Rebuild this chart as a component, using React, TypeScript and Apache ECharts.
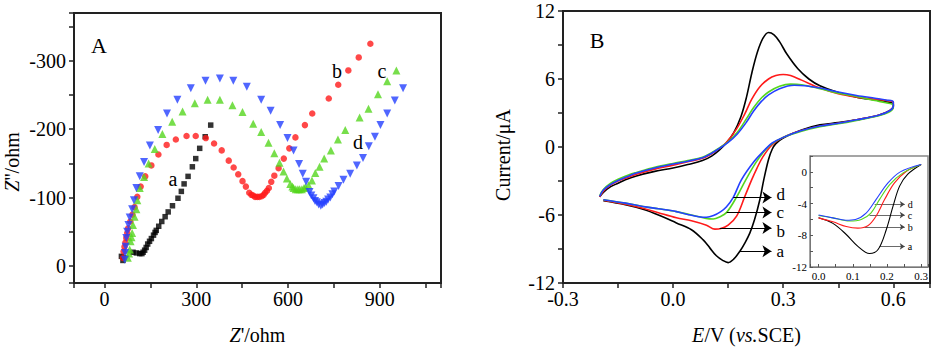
import React, { useEffect, useRef } from 'react';
import * as echarts from 'echarts';

const FONT = '"Liberation Serif", "Times New Roman", serif';

// ---------- Panel A : Nyquist plots (Z' , Z'') ----------
const nyqA: number[][] = [
  [55, -14], [60, -8], [63, -12], [93, -20], [104, -19], [115, -18], [122, -18], [126, -20], [131, -23],
  [136, -27], [141, -32], [147, -36], [153, -40], [160, -45], [165, -49], [169, -52], [177, -58], [187, -65],
  [198, -72], [208, -79], [222, -88], [240, -99], [251, -109], [260, -120], [273, -131], [287, -145],
  [298, -157], [311, -172], [329, -189], [347, -206],
];
const nyqB: number[][] = [
  [60, -11.6], [62, -21], [65, -28], [68, -34], [71, -41], [74, -48], [77, -55], [84, -65], [91, -75],
  [98, -86], [107, -101], [118, -116], [133, -131], [153, -147], [176, -163], [203, -177], [233, -185],
  [268, -190], [298, -190], [331, -187], [358, -179], [383, -169], [406, -154], [422, -144], [437, -134],
  [451, -124], [462, -116], [473, -107], [480, -104], [486, -103], [492, -101], [499, -101], [506, -101],
  [514, -102], [520, -104], [525, -107], [531, -110], [537, -114], [545, -123], [555, -132], [569, -143],
  [586, -157], [604, -172], [624, -188], [655, -206], [679, -223], [733, -245], [764, -265], [797, -286],
  [831, -305], [869, -325],
];
const nyqC: number[][] = [
  [76, -12], [80, -18], [82, -24], [85, -36], [88, -42], [90, -48], [93, -60], [98, -72], [104, -83],
  [107, -96], [115, -114], [129, -130], [144, -150], [164, -171], [189, -193], [221, -211], [255, -226],
  [295, -238], [337, -243], [377, -243], [418, -235], [451, -225], [486, -208], [512, -196], [536, -180],
  [555, -165], [572, -151], [585, -138], [596, -128], [607, -120], [614, -116], [618, -114], [625, -112],
  [632, -112], [638, -112], [645, -112], [652, -114], [657, -115], [667, -118], [678, -125], [689, -136],
  [703, -145], [718, -157], [740, -169], [763, -185], [787, -199], [834, -217], [863, -230], [894, -251],
  [924, -270], [954, -286],
];
const nyqD: number[][] = [
  [66, -9], [67, -19], [69, -28], [71, -41], [74, -50], [78, -60], [82, -71], [90, -83], [96, -96],
  [104, -114], [115, -131], [129, -152], [148, -176], [175, -199], [204, -223], [238, -243], [282, -260],
  [330, -271], [377, -274], [421, -271], [465, -262], [512, -243], [543, -227], [574, -206], [598, -187],
  [618, -169], [636, -149], [648, -135], [659, -123], [670, -108], [676, -103], [683, -99], [688, -95],
  [694, -93], [700, -90], [707, -88], [713, -90], [719, -92], [725, -94], [731, -97], [738, -100],
  [745, -105], [751, -109], [765, -117], [781, -126], [803, -135], [825, -147], [845, -158], [864, -175],
  [884, -189], [902, -206], [924, -223], [949, -242], [976, -260],
];

// ---------- Panel B : cyclic voltammograms (E / V, I / uA) ----------
const cvA: number[][] = [
  [-0.2, -4.4], [-0.19, -4.0], [-0.17, -3.5], [-0.15, -3.2], [-0.13, -2.9], [-0.1, -2.55], [-0.05, -2.15],
  [0.0, -1.85], [0.04, -1.55], [0.08, -1.2], [0.105, -0.8], [0.125, -0.3], [0.145, 0.35], [0.165, 1.25],
  [0.185, 2.7], [0.2, 4.4], [0.215, 6.6], [0.23, 8.4], [0.245, 9.6], [0.26, 10.1], [0.275, 9.9], [0.29, 9.3],
  [0.31, 8.2], [0.34, 6.9], [0.37, 6.0], [0.4, 5.4], [0.45, 4.8], [0.5, 4.4], [0.55, 4.15], [0.58, 4.0],
  [0.6, 3.8],
  [0.6, 3.6], [0.59, 3.2], [0.56, 2.8], [0.5, 2.4], [0.45, 2.15], [0.4, 1.95], [0.35, 1.5], [0.3, 0.8],
  [0.28, 0.3], [0.27, -0.2], [0.26, -1.1], [0.247, -2.9], [0.236, -4.7], [0.222, -6.4], [0.209, -7.6],
  [0.195, -8.5], [0.182, -9.2], [0.165, -9.9], [0.15, -10.2], [0.135, -10.0], [0.118, -9.6], [0.1, -8.9],
  [0.082, -8.2], [0.05, -7.3], [0.009, -6.7], [-0.04, -6.0], [-0.082, -5.5], [-0.13, -5.1], [-0.19, -4.75],
];
const cvB: number[][] = [
  [-0.2, -4.4], [-0.19, -3.9], [-0.17, -3.35], [-0.15, -3.0], [-0.12, -2.65], [-0.1, -2.4], [-0.05, -1.95],
  [0.0, -1.6], [0.04, -1.3], [0.08, -1.0], [0.105, -0.6], [0.125, -0.15], [0.145, 0.4], [0.173, 1.6],
  [0.195, 2.9], [0.214, 4.2], [0.236, 5.3], [0.26, 6.0], [0.28, 6.3], [0.3, 6.4], [0.32, 6.3],
  [0.35, 5.9], [0.4, 5.2], [0.45, 4.7], [0.5, 4.4], [0.55, 4.2], [0.58, 4.1], [0.6, 3.95],
  [0.6, 3.6], [0.59, 3.2], [0.56, 2.8], [0.5, 2.4], [0.45, 2.1], [0.4, 1.85], [0.35, 1.45], [0.3, 0.85],
  [0.27, 0.2], [0.245, -0.85], [0.228, -1.9], [0.214, -2.9], [0.195, -4.4], [0.173, -6.1], [0.15, -6.9],
  [0.13, -7.2], [0.114, -7.25], [0.091, -6.9], [0.05, -6.5], [0.009, -6.25], [-0.04, -5.8], [-0.082, -5.4],
  [-0.13, -5.05], [-0.19, -4.7],
];
const cvC: number[][] = [
  [-0.2, -4.3], [-0.19, -3.75], [-0.17, -3.2], [-0.15, -2.85], [-0.12, -2.45], [-0.1, -2.25], [-0.05, -1.8],
  [0.0, -1.45], [0.04, -1.2], [0.08, -0.9], [0.105, -0.5], [0.125, -0.1], [0.15, 0.45], [0.175, 1.3],
  [0.2, 2.5], [0.22, 3.5], [0.24, 4.3], [0.26, 4.85], [0.29, 5.35], [0.32, 5.55], [0.35, 5.5], [0.4, 5.15],
  [0.45, 4.75], [0.5, 4.45], [0.55, 4.1], [0.58, 3.9], [0.6, 3.7],
  [0.6, 3.5], [0.59, 3.1], [0.56, 2.75], [0.5, 2.35], [0.45, 2.05], [0.4, 1.8], [0.35, 1.4], [0.3, 0.85],
  [0.27, 0.3], [0.25, -0.3], [0.225, -1.4], [0.198, -2.9], [0.175, -4.3], [0.146, -5.77], [0.125, -6.2],
  [0.109, -6.35], [0.09, -6.3], [0.05, -6.0], [0.009, -5.7], [-0.04, -5.45], [-0.082, -5.25], [-0.13, -4.95],
  [-0.19, -4.65],
];
const cvD: number[][] = [
  [-0.2, -4.35], [-0.19, -3.8], [-0.17, -3.3], [-0.15, -2.95], [-0.12, -2.55], [-0.1, -2.3], [-0.05, -1.85],
  [0.0, -1.5], [0.04, -1.25], [0.08, -0.95], [0.105, -0.55], [0.125, -0.15], [0.15, 0.4], [0.175, 1.15],
  [0.2, 2.2], [0.22, 3.2], [0.24, 4.0], [0.26, 4.6], [0.29, 5.15], [0.33, 5.45], [0.36, 5.4], [0.4, 5.2],
  [0.45, 4.85], [0.5, 4.55], [0.55, 4.3], [0.58, 4.15], [0.6, 4.0],
  [0.6, 3.6], [0.59, 3.2], [0.56, 2.8], [0.5, 2.4], [0.45, 2.1], [0.4, 1.85], [0.35, 1.45], [0.3, 0.85],
  [0.27, 0.35], [0.25, -0.25], [0.22, -1.3], [0.186, -2.9], [0.164, -4.45], [0.145, -5.3], [0.13, -5.7],
  [0.11, -6.05], [0.091, -6.2], [0.07, -6.15], [0.04, -5.95], [0.009, -5.7], [-0.04, -5.45], [-0.082, -5.25],
  [-0.13, -4.95], [-0.19, -4.65],
];

// ---------- Inset : cathodic branch 0.0 – 0.3 V ----------
const insA: number[][] = [
  [0, -5.8], [0.042, -6.5], [0.081, -7.9], [0.115, -9.4], [0.149, -10.3], [0.174, -9.8], [0.198, -7.3],
  [0.218, -4.3], [0.237, -1.8], [0.261, -0.3], [0.3, 0.92],
];
const insB: number[][] = [
  [0, -5.8], [0.042, -6.3], [0.081, -6.9], [0.115, -7.1], [0.144, -6.8], [0.168, -5.6], [0.193, -3.5],
  [0.222, -1.4], [0.257, 0.08], [0.3, 0.92],
];
const insC: number[][] = [
  [0, -5.5], [0.042, -5.8], [0.09, -6.2], [0.125, -6.0], [0.153, -5.2], [0.178, -3.5], [0.208, -1.6],
  [0.247, -0.13], [0.3, 0.92],
];
const insD: number[][] = [
  [0, -5.45], [0.042, -5.8], [0.08, -6.1], [0.108, -6.0], [0.139, -5.2], [0.168, -3.5], [0.203, -1.4],
  [0.239, 0], [0.3, 0.92],
];

// arrow annotations [label, startE, endE, I]
const arrowsMain: [string, number, number, number][] = [
  ['d', 0.164, 0.268, -4.45],
  ['c', 0.146, 0.268, -5.77],
  ['b', 0.127, 0.268, -7.15],
  ['a', 0.182, 0.268, -9.2],
];
const arrowsInset: [string, number, number, number][] = [
  ['d', 0.164, 0.252, -4.1],
  ['c', 0.149, 0.252, -5.45],
  ['b', 0.134, 0.252, -6.96],
  ['a', 0.178, 0.252, -9.4],
];

const COLORS = { a: '#000000', b: '#ff1a1a', c: '#55d61e', d: '#2440ff' };

const txt = (color = '#000', size = 20) => ({ color, fontFamily: FONT, fontSize: size });

function buildOption(): any {
  const axisLine = { show: true, onZero: false, lineStyle: { color: '#222', width: 2 } };
  const tickOut = { show: true, inside: false, length: 5, lineStyle: { color: '#222', width: 1.5 } };
  const minorOut = { show: true, splitNumber: 2, length: 5, lineStyle: { color: '#222', width: 1.5 } };
  const axisIn = { show: true, onZero: false, lineStyle: { color: '#777', width: 1 } };
  const tickIn = { show: true, inside: true, length: 3, lineStyle: { color: '#555', width: 1 } };
  const minorIn = { show: true, splitNumber: 2, length: 3, lineStyle: { color: '#555', width: 1 } };

  // small vertical nudges so that the stacked letters do not collide
  const nudge: Record<string, number> = { d: -3, c: 0, b: 3, a: 0 };

  const markArrows = (list: [string, number, number, number][], size: number, sym: number, color: string, w: number, dist: number, useNudge: boolean) => ({
    silent: true,
    symbol: ['none', 'arrow'],
    symbolSize: sym,
    lineStyle: { color, width: w, type: 'solid' },
    label: { show: true, position: 'end', formatter: '{b}', distance: dist, ...txt('#000', size) },
    emphasis: { disabled: true },
    data: list.map(([n, x1, x2, y]) => [
      { name: n, coord: [x1, y], label: { offset: [0, useNudge ? nudge[n] : 0] } },
      { coord: [x2, y] },
    ]),
  });

  const cvSeries = (data: number[][], color: string, xi: number, yi: number, w: number, extra: any = {}) => ({
    type: 'line', xAxisIndex: xi, yAxisIndex: yi, data, showSymbol: false, symbol: 'none', smooth: 0.35,
    lineStyle: { color, width: w }, itemStyle: { color }, clip: true, z: 3, ...extra,
  });

  return {
    animation: false,
    backgroundColor: '#ffffff',
    grid: [
      { left: 74, top: 13, width: 367, height: 272, show: true, borderColor: '#222', borderWidth: 2, backgroundColor: 'transparent' },
      { left: 563, top: 11, width: 367, height: 273, show: true, borderColor: '#222', borderWidth: 2, backgroundColor: 'transparent' },
      { left: 810, top: 156, width: 118, height: 111, show: true, borderColor: '#888', borderWidth: 1.5, backgroundColor: '#fff', z: 5 },
    ],
    xAxis: [
      {
        gridIndex: 0, type: 'value', min: -100, max: 1100, minInterval: 300, maxInterval: 300, splitNumber: 4,
        axisLine, axisTick: tickOut, minorTick: minorOut, splitLine: { show: false }, minorSplitLine: { show: false },
        axisLabel: { ...txt(), margin: 6, showMinLabel: false, showMaxLabel: false },
        name: "{i|Z}'/ohm", nameLocation: 'middle', nameGap: 42,
        nameTextStyle: { ...txt(), rich: { i: { ...txt(), fontStyle: 'italic' } } },
      },
      {
        gridIndex: 1, type: 'value', min: -0.3, max: 0.7, interval: 0.3,
        axisLine, axisTick: tickOut, minorTick: minorOut, splitLine: { show: false }, minorSplitLine: { show: false },
        axisLabel: { ...txt(), margin: 6, showMaxLabel: false, formatter: (v: number) => v.toFixed(1) },
        name: '{i|E}/V ({i|vs.}SCE)', nameLocation: 'middle', nameGap: 42,
        nameTextStyle: { ...txt(), rich: { i: { ...txt(), fontStyle: 'italic' } } },
      },
      {
        gridIndex: 2, type: 'value', min: -0.025, max: 0.32, minInterval: 0.1, maxInterval: 0.1, splitNumber: 3,
        axisLine: axisIn, axisTick: tickIn, minorTick: minorIn, splitLine: { show: false }, minorSplitLine: { show: false },
        axisLabel: { ...txt('#000', 11), margin: 3, showMinLabel: false, showMaxLabel: false, formatter: (v: number) => v.toFixed(1) },
        z: 6,
      },
    ],
    yAxis: [
      {
        gridIndex: 0, type: 'value', inverse: true, min: -370, max: 25, minInterval: 100, maxInterval: 100, splitNumber: 4,
        axisLine, axisTick: tickOut, minorTick: minorOut, splitLine: { show: false }, minorSplitLine: { show: false },
        axisLabel: { ...txt(), margin: 8, showMinLabel: false, showMaxLabel: false },
      },
      {
        gridIndex: 1, type: 'value', min: -12, max: 12, interval: 6,
        axisLine, axisTick: tickOut, minorTick: minorOut, splitLine: { show: false }, minorSplitLine: { show: false },
        axisLabel: { ...txt(), margin: 8 },
      },
      {
        gridIndex: 2, type: 'value', min: -12, max: 2, interval: 4,
        axisLine: axisIn, axisTick: tickIn, minorTick: minorIn, splitLine: { show: false }, minorSplitLine: { show: false },
        axisLabel: { ...txt('#000', 11), margin: 3, showMaxLabel: false },
        z: 6,
      },
    ],
    series: [
      { type: 'scatter', xAxisIndex: 0, yAxisIndex: 0, data: nyqA, symbol: 'rect', symbolSize: 5.5, itemStyle: { color: COLORS.a } },
      { type: 'scatter', xAxisIndex: 0, yAxisIndex: 0, data: nyqB, symbol: 'circle', symbolSize: 6.5, itemStyle: { color: COLORS.b } },
      { type: 'scatter', xAxisIndex: 0, yAxisIndex: 0, data: nyqC, symbol: 'triangle', symbolSize: 8, itemStyle: { color: COLORS.c } },
      { type: 'scatter', xAxisIndex: 0, yAxisIndex: 0, data: nyqD, symbol: 'triangle', symbolRotate: 180, symbolSize: 8, itemStyle: { color: COLORS.d } },

      cvSeries(cvA, COLORS.a, 1, 1, 1.6, { markLine: markArrows(arrowsMain, 17, 9, '#000', 1, 5, true) }),
      cvSeries(cvB, COLORS.b, 1, 1, 1.6),
      cvSeries(cvC, COLORS.c, 1, 1, 1.6),
      cvSeries(cvD, COLORS.d, 1, 1, 1.6),

      cvSeries(insA, COLORS.a, 2, 2, 1.1, { z: 7, markLine: { ...markArrows(arrowsInset, 10, 5, '#444', 0.8, 3, false), z: 7 } }),
      cvSeries(insB, COLORS.b, 2, 2, 1.1, { z: 7 }),
      cvSeries(insC, COLORS.c, 2, 2, 1.1, { z: 7 }),
      cvSeries(insD, COLORS.d, 2, 2, 1.1, { z: 7 }),
    ],
    graphic: [
      { type: 'text', z: 100, x: 99, y: 45, style: { text: 'A', fill: '#000', font: `22px ${FONT}`, align: 'center', verticalAlign: 'middle' } },
      { type: 'text', z: 100, x: 597, y: 40, style: { text: 'B', fill: '#000', font: `22px ${FONT}`, align: 'center', verticalAlign: 'middle' } },
      { type: 'text', z: 100, x: 173, y: 179, style: { text: 'a', fill: '#000', font: `20px ${FONT}`, align: 'center', verticalAlign: 'middle' } },
      { type: 'text', z: 100, x: 337, y: 71, style: { text: 'b', fill: '#000', font: `20px ${FONT}`, align: 'center', verticalAlign: 'middle' } },
      { type: 'text', z: 100, x: 382, y: 71, style: { text: 'c', fill: '#000', font: `20px ${FONT}`, align: 'center', verticalAlign: 'middle' } },
      { type: 'text', z: 100, x: 358, y: 142, style: { text: 'd', fill: '#000', font: `20px ${FONT}`, align: 'center', verticalAlign: 'middle' } },
      {
        type: 'text', z: 100, x: 12, y: 162, rotation: Math.PI / 2,
        style: {
          text: "{i|Z}''/ohm", fill: '#000', font: `20px ${FONT}`, align: 'center', verticalAlign: 'middle',
          rich: { i: { fontStyle: 'italic', fontSize: 20, fontFamily: FONT, fill: '#000' } },
        },
      },
      {
        type: 'text', z: 100, x: 503, y: 155, rotation: Math.PI / 2,
        style: { text: 'Current/μA', fill: '#000', font: `20px ${FONT}`, align: 'center', verticalAlign: 'middle' },
      },
    ],
  };
}

export default function App() {
  const ref = useRef<HTMLDivElement>(null);
  useEffect(() => {
    if (!ref.current) return;
    const chart = echarts.init(ref.current, null, { renderer: 'svg' });
    chart.setOption(buildOption());
    return () => chart.dispose();
  }, []);
  return (
    <div
      ref={ref}
      style={{ position: 'fixed', left: 0, top: 0, width: 934, height: 350, background: '#fff' }}
    />
  );
}
